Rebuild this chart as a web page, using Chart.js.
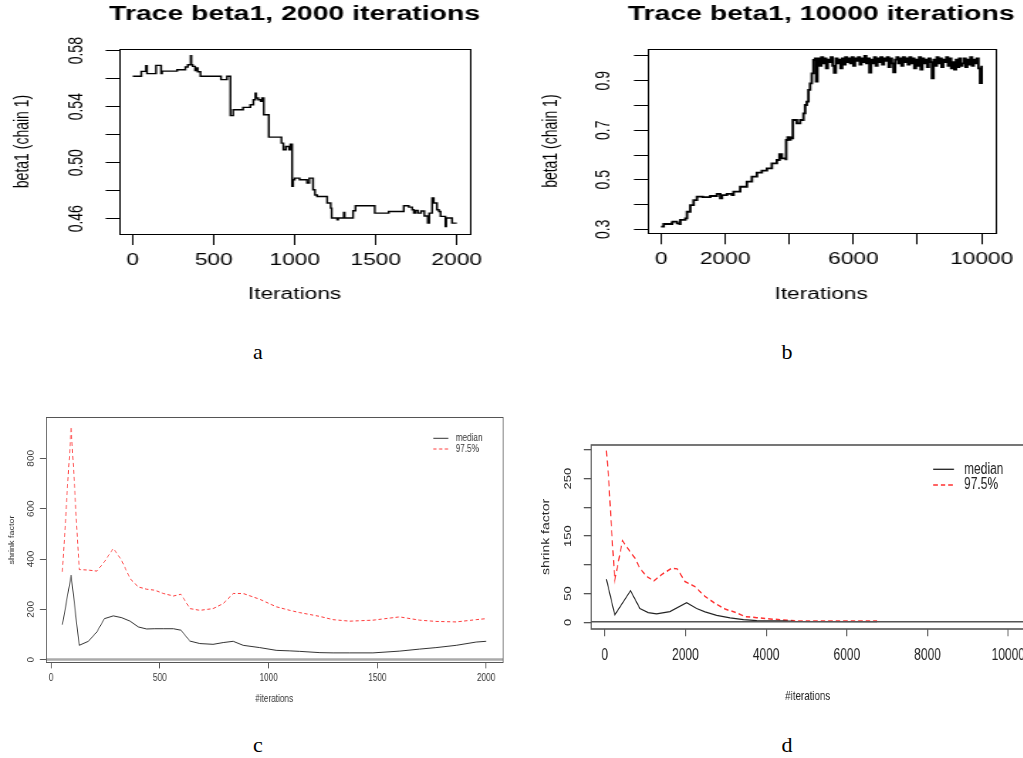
<!DOCTYPE html>
<html>
<head>
<meta charset="utf-8">
<script src="https://cdn.jsdelivr.net/npm/chart.js@4.4.0/dist/chart.umd.min.js"></script>
<style>
  html, body { margin: 0; padding: 0; background: #fff; }
  body { width: 1023px; height: 758px; overflow: hidden; position: relative; }
  .panel { position: absolute; transform-origin: 0 0; }
  .panel canvas { display: block; }
  .cap { position: absolute; font-family: 'Liberation Serif', 'DejaVu Serif', serif; font-size: 22px; color: #000; transform: translate(-50%, -50%); }
</style>
</head>
<body>
<div class="panel" id="pa"><canvas></canvas></div>
<div class="panel" id="pb"><canvas></canvas></div>
<div class="panel" id="pc"><canvas></canvas></div>
<div class="panel" id="pd"><canvas></canvas></div>
<div class="cap" style="left:258px;top:352px">a</div>
<div class="cap" style="left:787px;top:352px">b</div>
<div class="cap" style="left:258px;top:745px">c</div>
<div class="cap" style="left:787px;top:745px">d</div>
<script>
// ---- data ----

// a: trace of beta1, 2000 iterations
const iterA = [0, 53, 82, 88, 144, 175, 181, 274, 325, 340, 358, 362, 370, 385, 392, 401, 418, 545, 582, 603,
  620, 681, 726, 745, 757, 762, 775, 790, 798, 809, 840, 918, 930, 945, 965, 973, 984, 990, 1000, 1030,
  1076, 1090, 1113, 1125, 1138, 1200, 1222, 1228, 1262, 1268, 1303, 1308, 1360, 1375, 1494, 1580, 1673, 1704, 1725, 1735,
  1745, 1760, 1780, 1800, 1821, 1830, 1848, 1858, 1878, 1890, 1900, 1920, 1930, 1935, 1971, 2000];
const betaA = [0.5617, 0.5652, 0.5693, 0.5636, 0.5695, 0.5636, 0.5654, 0.5664, 0.5683, 0.5700, 0.5764, 0.5700, 0.5688, 0.5659, 0.5676, 0.5650, 0.5617, 0.5593, 0.5617, 0.5336,
  0.5378, 0.5395, 0.5414, 0.5450, 0.5497, 0.5462, 0.5450, 0.5438, 0.5462, 0.5343, 0.5183, 0.5140, 0.5093, 0.5116, 0.5093, 0.5133, 0.4831, 0.4878, 0.4890, 0.4878,
  0.4855, 0.4890, 0.4807, 0.4770, 0.4759, 0.4712, 0.4676, 0.4605, 0.4593, 0.4605, 0.4645, 0.4605, 0.4657, 0.4693, 0.4640, 0.4652, 0.4693, 0.4683, 0.4664, 0.4640,
  0.4660, 0.4640, 0.4655, 0.4620, 0.4569, 0.4640, 0.4748, 0.4712, 0.4664, 0.4652, 0.4617, 0.4617, 0.4545, 0.4605, 0.4569, 0.4569];
const xTicksA = [0, 500, 1000, 1500, 2000];
const xLabelsA = [0, 500, 1000, 1500, 2000];
const yTicksA = [0.46, 0.48, 0.50, 0.52, 0.54, 0.56, 0.58];
const yLabelsA = [0.46, 0.50, 0.54, 0.58];

// b: trace of beta1, 10000 iterations
const iterB = [0, 83, 343, 360, 498, 581, 602, 758, 810, 913, 1017, 1121, 1300, 1536, 1744, 1848, 1900, 2055, 2211, 2263,
  2470, 2678, 2834, 2990, 3145, 3301, 3457, 3612, 3695, 3768, 3893, 3903, 3950, 4000, 4040, 4079, 4111, 4235, 4339, 4443,
  4495, 4546, 4598, 4650, 4702, 4754, 4806, 4837, 4879,
  4900, 4950, 5000, 5050, 5100, 5150, 5200, 5250, 5300, 5350, 5400, 5450, 5500, 5550, 5600, 5650, 5700, 5750, 5800, 5850,
  5900, 5950, 6000, 6050, 6100, 6150, 6200, 6250, 6300, 6350, 6400, 6450, 6500, 6550, 6600, 6650, 6700, 6750, 6800, 6850,
  6900, 6950, 7000, 7050, 7100, 7150, 7200, 7250, 7300, 7350, 7400, 7450, 7500, 7550, 7600, 7650, 7700, 7750, 7800, 7850,
  7900, 7950, 8000, 8050, 8100, 8150, 8200, 8250, 8300, 8350, 8400, 8450, 8500, 8550, 8600, 8650, 8700, 8750, 8800, 8850,
  8900, 8950, 9000, 9050, 9100, 9150, 9200, 9250, 9300, 9350, 9400, 9450, 9500, 9550, 9600, 9650, 9700, 9750, 9800, 9850,
  9900, 9950, 10000];
const betaB = [0.311, 0.3215, 0.327, 0.331, 0.324, 0.3215, 0.338, 0.344, 0.371, 0.398, 0.418, 0.432, 0.430, 0.4346, 0.443, 0.425, 0.438, 0.443, 0.4386, 0.452,
  0.472, 0.4925, 0.5127, 0.5288, 0.537, 0.546, 0.5665, 0.58, 0.604, 0.5867, 0.5826, 0.6607, 0.672, 0.661, 0.671, 0.667, 0.7414, 0.728, 0.7414, 0.768,
  0.802, 0.8155, 0.8626, 0.8895, 0.93, 0.9837, 0.990, 0.896, 0.977,
  0.99, 0.96, 0.995, 0.97, 0.99, 0.95, 0.985, 0.975, 0.995, 0.96,
  0.932, 0.99, 0.97, 0.985, 0.95, 0.99, 0.965, 0.995, 0.975, 0.99,
  0.97, 0.995, 0.96, 0.99, 0.98, 0.995, 0.965, 0.99, 0.975, 1.0,
  0.97, 0.99, 0.933, 0.985, 0.97, 0.995, 0.96, 0.99, 0.975, 0.995,
  0.965, 0.99, 0.98, 0.995, 0.955, 0.99, 0.97, 0.934, 0.985, 0.995,
  0.97, 0.99, 0.96, 0.995, 0.975, 0.99, 0.965, 0.995, 0.97, 0.99,
  0.95, 0.985, 0.96, 0.995, 0.945, 0.99, 0.97, 0.985, 0.955, 0.99,
  0.975, 0.91, 0.985, 0.96, 0.995, 0.97, 0.99, 0.955, 0.985, 0.975,
  0.995, 0.96, 0.99, 0.95, 0.975, 0.945, 0.985, 0.955, 0.99, 0.96,
  0.97, 0.99, 0.955, 0.985, 0.965, 0.995, 0.96, 0.985, 0.97, 0.99,
  0.95, 0.89, 0.96];
const xTicksB = [0, 2000, 4000, 6000, 8000, 10000];
const xLabelsB = [0, 2000, 6000, 10000];
const yTicksB = [0.3, 0.4, 0.5, 0.6, 0.7, 0.8, 0.9, 1.0];
const yLabelsB = [0.3, 0.5, 0.7, 0.9];

// c: shrink factor, 2000 iterations
const iterC = [52, 92, 129, 171, 210, 245, 286, 324, 363, 401, 439, 477, 516, 562, 597, 638, 684, 745, 791, 837,
  883, 959, 1036, 1097, 1143, 1235, 1296, 1373, 1480, 1602, 1694, 1770, 1862, 1954, 2000];
const medianC = [139, 336, 57, 73, 110, 163, 174, 167, 153, 130, 122, 123, 123, 123, 117, 74, 64, 61, 68, 73,
  57, 48, 37, 35, 33, 28, 27, 27, 27, 34, 42, 48, 57, 70, 73];
const upperC = [349, 926, 358, 356, 352, 389, 442, 395, 322, 289, 280, 276, 263, 253, 260, 203, 196, 203, 223, 263,
  263, 240, 210, 196, 187, 172, 159, 153, 157, 170, 157, 152, 150, 159, 163];
const xTicksC = [0, 500, 1000, 1500, 2000];
const xLabelsC = [0, 500, 1000, 1500, 2000];
const yTicksC = [0, 200, 400, 600, 800];
const yLabelsC = [0, 200, 400, 600, 800];

// d: shrink factor, 10000 iterations
const iterMedD = [41, 248, 638, 870, 1077, 1284, 1615, 2029, 2277, 2485, 2774, 3106, 3437, 3768, 4100, 4431, 4680, 6750];
const medianD = [75, 12.8, 55, 24, 16.9, 14.5, 18.6, 34, 24, 18, 12.2, 7.6, 4.7, 2.9, 2.3, 2.3, 1.7, 1.2];
const iterUpD = [41, 99, 149, 248, 439, 638, 745, 870, 1035, 1217, 1408, 1656, 1797, 1988, 2236, 2485, 2733, 2982, 3230, 3478,
  3768, 4100, 4431, 4762, 5425, 6750];
const upperD = [299, 248, 184, 73, 142, 122, 112, 94, 80, 72, 83, 94, 93, 71, 62, 45, 33, 23, 17.4, 9.9,
  8.1, 5.8, 4.1, 2.3, 2.3, 2.3];
const xTicksD = [0, 2000, 4000, 6000, 8000, 10000];
const xLabelsD = [0, 2000, 4000, 6000, 8000, 10000];
const yTicksD = [0, 50, 100, 150, 200, 250, 300];
const yLabelsD = [0, 50, 150, 250];

const refLevel = 1; // horizontal reference line in the shrink-factor plots

// ---- helpers ----
const SANS = "'Liberation Sans', Arial, Helvetica, sans-serif";

const pts = (xs, ys) => xs.map((x, i) => ({ x, y: ys[i] }));

function panel(id, left, top, w, h, sx) {
  const wrap = document.getElementById(id);
  wrap.style.left = left + 'px';
  wrap.style.top = top + 'px';
  wrap.style.transform = 'scaleX(' + sx + ')';
  const cv = wrap.querySelector('canvas');
  const cw = Math.round(w / sx);
  cv.width = cw; cv.height = h;
  cv.style.width = cw + 'px'; cv.style.height = h + 'px';
  return cv;
}

function pick(labels, fmt) {
  return v => labels.some(l => Math.abs(l - v) < 1e-9) ? fmt(v) : '';
}

function axis(o) {
  const horiz = o.pos === 'bottom';
  return {
    type: 'linear', position: o.pos, min: o.min, max: o.max,
    afterBuildTicks: s => { s.ticks = o.ticks.map(v => ({ value: v })); },
    afterFit: s => {
      if (horiz) s.height = o.size; else s.width = o.size;
      s.paddingTop = s.paddingBottom = s.paddingLeft = s.paddingRight = 0;
    },
    grid: { drawOnChartArea: false, drawTicks: true, tickLength: o.tick, color: o.line, lineWidth: o.lw || 1 },
    border: { display: false },
    ticks: {
      autoSkip: false, padding: o.pad, color: o.ink, font: { family: SANS, size: o.fs },
      minRotation: horiz ? 0 : 90, maxRotation: horiz ? 0 : 90,
      crossAlign: horiz ? 'near' : 'center',
      callback: pick(o.labels, o.fmt)
    },
    title: {
      display: true, text: o.title, color: o.ink, font: { family: SANS, size: o.tfs },
      padding: horiz ? { top: 0, bottom: o.tpad } : { top: o.tpad, bottom: 0 }
    }
  };
}

// plot box (R's bty="o") and optional main title
const frame = {
  id: 'frame',
  afterDatasetsDraw(chart, args, o) {
    const { ctx, chartArea: a } = chart;
    ctx.save();
    ctx.strokeStyle = o.color; ctx.lineWidth = o.width;
    const h = Math.round(o.width) % 2 ? 0.5 : 0;
    ctx.strokeRect(Math.round(a.left) + h, Math.round(a.top) + h, Math.round(a.right - a.left), Math.round(a.bottom - a.top));
    if (o.text) {
      ctx.fillStyle = '#000'; ctx.font = o.font;
      ctx.textAlign = 'center'; ctx.textBaseline = 'middle';
      ctx.fillText(o.text, (a.left + a.right) / 2, o.y);
    }
    ctx.restore();
  }
};

// R-style legend without a box
const key = {
  id: 'key',
  afterDraw(chart, args, o) {
    if (o.x1 === undefined) return;
    const ctx = chart.ctx;
    let y = o.y;
    chart.data.datasets.forEach(ds => {
      if (!ds.label) return;
      ctx.save();
      ctx.strokeStyle = ds.borderColor; ctx.lineWidth = ds.borderWidth;
      ctx.setLineDash(ds.borderDash || []);
      ctx.beginPath(); ctx.moveTo(o.x1, y); ctx.lineTo(o.x2, y); ctx.stroke();
      ctx.setLineDash([]);
      ctx.fillStyle = o.color; ctx.font = o.font;
      ctx.textAlign = 'left'; ctx.textBaseline = 'middle';
      ctx.fillText(ds.label, o.tx, y);
      ctx.restore();
      y += o.dy;
    });
  }
};

function makeChart(canvas, datasets, xs, ys, pad, frameOpts, keyOpts) {
  return new Chart(canvas, {
    type: 'line',
    data: { datasets },
    options: {
      responsive: false, animation: false, events: [],
      layout: { padding: pad },
      elements: { point: { radius: 0 }, line: { tension: 0 } },
      scales: { x: xs, y: ys },
      plugins: { legend: { display: false }, tooltip: { enabled: false }, frame: frameOpts, key: keyOpts || {} }
    },
    plugins: [frame, key]
  });
}

// ---- a ----
makeChart(panel('pa', 0, 0, 505, 320, 1.42),
  [{ data: pts(iterA, betaA), borderColor: '#000', borderWidth: 1.4, stepped: 'before' }],
  axis({ pos: 'bottom', min: -84.6, max: 2082, ticks: xTicksA, labels: xLabelsA, fmt: v => String(v),
    size: 86, tick: 11, pad: 5.9, fs: 16, ink: '#000', line: '#000', title: 'Iterations', tfs: 16, tpad: 15.4 }),
  axis({ pos: 'left', min: 0.4491, max: 0.5812, ticks: yTicksA, labels: yLabelsA, fmt: v => v.toFixed(2),
    size: 83.8, tick: 9.4, pad: 6.2, fs: 14, ink: '#000', line: '#000', title: 'beta1 (chain 1)', tfs: 14, tpad: 7.8 }),
  { top: 49, right: 25, bottom: 0, left: 0 },
  { color: '#000', width: 1, text: 'Trace beta1, 2000 iterations', y: 14, font: 'bold 20px ' + SANS });

// ---- b ----
makeChart(panel('pb', 510, 0, 513, 320, 1.42),
  [{ data: pts(iterB, betaB), borderColor: '#000', borderWidth: 1.8, stepped: 'before' }],
  axis({ pos: 'bottom', min: -427, max: 10415, ticks: xTicksB, labels: xLabelsB, fmt: v => String(v),
    size: 86.7, tick: 11, pad: 6.1, fs: 16, ink: '#000', line: '#000', title: 'Iterations', tfs: 16, tpad: 15.4 }),
  axis({ pos: 'left', min: 0.284, max: 1.028, ticks: yTicksB, labels: yLabelsB, fmt: v => v.toFixed(1),
    size: 96.7, tick: 9.4, pad: 11.8, fs: 14, ink: '#000', line: '#000', title: 'beta1 (chain 1)', tfs: 14, tpad: 21.2 }),
  { top: 49, right: 19.5, bottom: 0, left: 0 },
  { color: '#000', width: 1, text: 'Trace beta1, 10000 iterations', y: 14, font: 'bold 20px ' + SANS });

// ---- c ----
const xMinC = -25, xMaxC = 2076;
makeChart(panel('pc', 0, 405, 512, 310, 0.82),
  [
    { data: [{ x: xMinC, y: refLevel }, { x: xMaxC, y: refLevel }], borderColor: '#aaaaaa', borderWidth: 2.5 },
    { label: 'median', data: pts(iterC, medianC), borderColor: '#333333', borderWidth: 1 },
    { label: '97.5%', data: pts(iterC, upperC), borderColor: '#ff3b3b', borderWidth: 1, borderDash: [4, 3] }
  ],
  axis({ pos: 'bottom', min: xMinC, max: xMaxC, ticks: xTicksC, labels: xLabelsC, fmt: v => String(v),
    size: 52.3, tick: 5.7, pad: 3.4, fs: 10, ink: '#333', line: '#555', title: '#iterations', tfs: 10, tpad: 9.3 }),
  axis({ pos: 'left', min: -12, max: 963, ticks: yTicksC, labels: yLabelsC, fmt: v => String(v),
    size: 55.7, tick: 7, pad: 1.7, fs: 10, ink: '#333', line: '#555', title: 'shrink factor', tfs: 9, tpad: 8.9 }),
  { top: 12.3, right: 11, bottom: 0, left: 0 },
  { color: '#555', width: 1 },
  { x1: 528.4, x2: 546.7, tx: 555.7, y: 33.3, dy: 10.7, font: '10px ' + SANS, color: '#333' });

// ---- d ----
const xMinD = -340, xMaxD = 10400;
makeChart(panel('pd', 520, 430, 510, 290, 0.75),
  [
    { data: [{ x: xMinD, y: refLevel }, { x: xMaxD, y: refLevel }], borderColor: '#555555', borderWidth: 1.6 },
    { label: 'median', data: pts(iterMedD, medianD), borderColor: '#222222', borderWidth: 1.3 },
    { label: '97.5%', data: pts(iterUpD, upperD), borderColor: '#ff3030', borderWidth: 1.5, borderDash: [6, 4] }
  ],
  axis({ pos: 'bottom', min: xMinD, max: xMaxD, ticks: xTicksD, labels: xLabelsD, fmt: v => String(v),
    size: 91, tick: 7.3, pad: 9.6, fs: 16, ink: '#222', line: '#555', lw: 1.3, title: '#iterations', tfs: 13, tpad: 16.2 }),
  axis({ pos: 'left', min: -11.7, max: 308.7, ticks: yTicksD, labels: yLabelsD, fmt: v => String(v),
    size: 94.7, tick: 9.8, pad: 9.7, fs: 13, ink: '#222', line: '#555', lw: 1.3, title: 'shrink factor', tfs: 14, tpad: 27.2 }),
  { top: 15, right: 7.5, bottom: 0, left: 0 },
  { color: '#555', width: 1.6 },
  { x1: 551, x2: 578.7, tx: 592, y: 39.3, dy: 15.7, font: '16px ' + SANS, color: '#222' });
</script>
</body>
</html>
